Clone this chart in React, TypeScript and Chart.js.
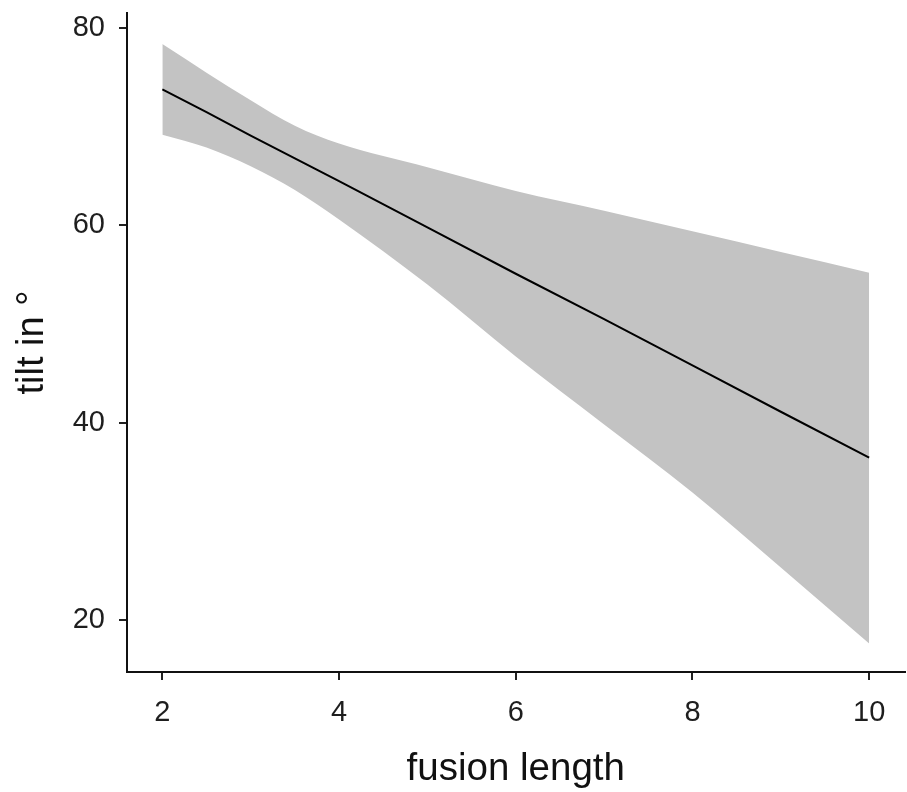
import React, { useEffect, useRef } from "react";
import { Chart, registerables } from "chart.js";

Chart.register(...registerables);

const fusionLength = [2, 2.5, 3, 3.5, 4, 5, 6, 7, 8, 9, 10];
const tiltFit = [73.8, 71.5, 69.1, 66.8, 64.5, 59.8, 55.1, 50.5, 45.8, 41.1, 36.45];
const ciUpper = [78.4, 75.5, 72.7, 70.1, 68.3, 65.9, 63.5, 61.5, 59.4, 57.3, 55.2];
const ciLower = [69.2, 67.9, 66.0, 63.6, 60.6, 54.0, 46.7, 39.8, 32.9, 25.3, 17.6];

const xTicks = [2, 4, 6, 8, 10];
const yTicks = [20, 40, 60, 80];

const xTitle = "fusion length";
const yTitle = "tilt in °";

const FONT = "'Liberation Sans', Arial, Helvetica, sans-serif";

export default function App() {
  const ref = useRef<HTMLCanvasElement | null>(null);

  useEffect(() => {
    document.body.style.margin = "0";
    const canvas = ref.current;
    if (!canvas) return;
    const pts = (ys: number[]) => fusionLength.map((x, i) => ({ x, y: ys[i] }));
    const chart = new Chart(canvas, {
      type: "line",
      data: {
        datasets: [
          {
            label: "fit",
            data: pts(tiltFit),
            borderColor: "#000000",
            borderWidth: 2,
            pointRadius: 0,
            fill: false,
            tension: 0,
          },
          {
            label: "upper",
            data: pts(ciUpper),
            borderWidth: 0,
            borderColor: "rgba(0,0,0,0)",
            backgroundColor: "#c3c3c3",
            pointRadius: 0,
            fill: "+1",
            cubicInterpolationMode: "monotone",
          },
          {
            label: "lower",
            data: pts(ciLower),
            borderWidth: 0,
            borderColor: "rgba(0,0,0,0)",
            pointRadius: 0,
            fill: false,
            cubicInterpolationMode: "monotone",
          },
        ],
      },
      options: {
        responsive: false,
        animation: false,
        layout: { padding: { left: 0, right: 2.5, top: 13, bottom: 0 } },
        plugins: { legend: { display: false }, tooltip: { enabled: false } },
        scales: {
          x: {
            type: "linear",
            min: 1.6,
            max: 10.4,
            afterBuildTicks: (s: any) => {
              s.ticks = xTicks.map((v) => ({ value: v }));
            },
            afterFit: (s: any) => {
              s.height = 120;
              s.paddingLeft = 0;
              s.paddingRight = 0;
            },
            grid: { display: true, drawOnChartArea: false, drawTicks: true, tickLength: 8, color: "#222222", lineWidth: 2 },
            border: { display: true, color: "#111111", width: 2 },
            ticks: {
              color: "#1e1e1e",
              font: { family: FONT, size: 29 },
              padding: 16,
              maxRotation: 0,
              callback: (v: any) => String(v),
            },
            title: {
              display: true,
              text: xTitle,
              color: "#111111",
              font: { family: FONT, size: 38.5 },
              padding: { top: 0, bottom: 0 },
            },
          },
          y: {
            type: "linear",
            min: 14.7,
            max: 81.55,
            afterBuildTicks: (s: any) => {
              s.ticks = yTicks.map((v) => ({ value: v }));
            },
            afterFit: (s: any) => {
              s.width = 127;
              s.paddingTop = 0;
              s.paddingBottom = 0;
            },
            grid: { display: true, drawOnChartArea: false, drawTicks: true, tickLength: 8, color: "#222222", lineWidth: 2 },
            border: { display: true, color: "#111111", width: 2 },
            ticks: {
              color: "#1e1e1e",
              font: { family: FONT, size: 29 },
              padding: 14,
              callback: (v: any) => String(v),
            },
            title: {
              display: true,
              text: yTitle,
              color: "#111111",
              font: { family: FONT, size: 38 },
              padding: { top: 10, bottom: 0 },
            },
          },
        },
      },
    });
    return () => chart.destroy();
  }, []);

  return (
    <div style={{ width: 907, height: 792, background: "#ffffff" }}>
      <canvas ref={ref} width={907} height={792} style={{ display: "block" }} />
    </div>
  );
}
